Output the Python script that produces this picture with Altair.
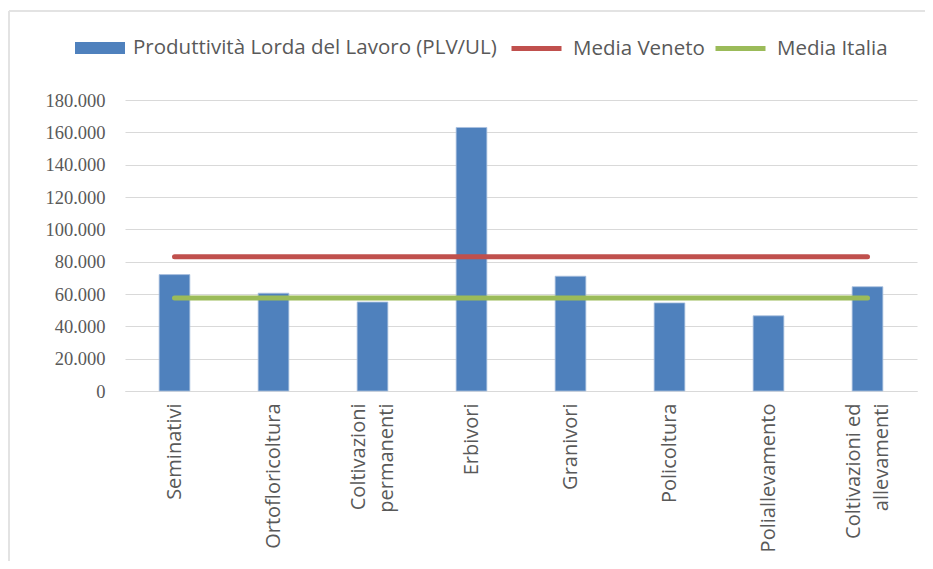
import altair as alt
import pandas as pd

categories = [
    "Seminativi",
    "Ortofloricoltura",
    "Coltivazioni\npermanenti",
    "Erbivori",
    "Granivori",
    "Policoltura",
    "Poliallevamento",
    "Coltivazioni ed\nallevamenti",
]
plv_ul = [72000, 60500, 55000, 163000, 71000, 54500, 46500, 64500]
media_veneto = [83000] * 8
media_italia = [57500] * 8
y_ticks = [0, 20000, 40000, 60000, 80000, 100000, 120000, 140000, 160000, 180000]

BAR_NAME = "Produttività Lorda del Lavoro (PLV/UL)"
LINE_NAMES = ["Media Veneto", "Media Italia"]

bars_df = pd.DataFrame({"cat": categories, "value": plv_ul, "series": BAR_NAME})
lines_df = pd.concat([
    pd.DataFrame({"cat": categories, "value": media_veneto, "series": "Media Veneto"}),
    pd.DataFrame({"cat": categories, "value": media_italia, "series": "Media Italia"}),
])

SANS = "Open Sans, sans-serif"
SERIF = "Liberation Serif, DejaVu Serif, serif"
TXT = "#595959"

x_enc = alt.X(
    "cat:N",
    sort=categories,
    scale=alt.Scale(paddingInner=0.69, paddingOuter=0.345),
    axis=alt.Axis(
        title=None,
        labelAngle=270,
        labelAlign="right",
        labelBaseline="middle",
        labelExpr="split(datum.label, '\\n')",
        labelOffset=alt.condition("indexof(datum.value, '\\n') >= 0", alt.value(-14), alt.value(0)),
        labelFont=SANS,
        labelFontSize=20,
        labelColor=TXT,
        labelPadding=12,
        ticks=False,
        domainColor="#D9D9D9",
        domainWidth=1,
        labelLimit=300,
        labelLineHeight=28,
    ),
)

y_enc = alt.Y(
    "value:Q",
    scale=alt.Scale(domain=[0, 180000], nice=False),
    axis=alt.Axis(
        title=None,
        values=y_ticks,
        tickCount=10,
        labelExpr="replace(format(datum.value, ','), ',', '.')",
        labelFont=SERIF,
        labelFontSize=18.5,
        labelColor=TXT,
        labelPadding=20,
        labelOverlap=False,
        ticks=False,
        domain=False,
        gridColor="#D9D9D9",
        gridWidth=1,
    ),
)

bars = alt.Chart(bars_df).mark_bar(stroke="#A9C0DE", strokeWidth=0.8).encode(
    x=x_enc,
    y=y_enc,
    fill=alt.Fill(
        "series:N",
        scale=alt.Scale(domain=[BAR_NAME], range=["#4F81BD"]),
        legend=alt.Legend(
            title=None,
            orient="none",
            legendX=-50,
            legendY=-77,
            direction="horizontal",
            symbolType="M-1,-0.24H1V0.24H-1Z",
            symbolSize=2500,
            symbolStrokeWidth=0,
            labelFont=SANS,
            labelFontSize=20.5,
            labelColor=TXT,
            labelOffset=8,
            labelLimit=500,
        ),
    ),
)

lines = alt.Chart(lines_df).mark_line(strokeWidth=5, strokeCap="round").encode(
    x=x_enc,
    y=y_enc,
    detail="series:N",
    stroke=alt.Stroke(
        "series:N",
        scale=alt.Scale(domain=LINE_NAMES, range=["#C0504D", "#9BBB59"]),
        legend=alt.Legend(
            title=None,
            orient="none",
            legendX=384,
            legendY=-79,
            direction="horizontal",
            symbolType="stroke",
            symbolSize=2500,
            symbolStrokeWidth=5,
            labelFont=SANS,
            labelFontSize=20.5,
            labelColor=TXT,
            labelOffset=9,
            columnPadding=0,
            labelLimit=300,
        ),
    ),
)

frame_left = alt.Chart(bars_df).mark_rule(color="#E3E3E3", strokeWidth=2).encode(
    x=alt.value(-116), y=alt.value(-89), y2=alt.value(500)
)
frame_top = alt.Chart(bars_df).mark_rule(color="#E3E3E3", strokeWidth=2).encode(
    x=alt.value(-116), x2=alt.value(820), y=alt.value(-89)
)

chart = (
    alt.layer(frame_left, frame_top, bars, lines)
    .properties(
        width=792,
        height=291,
        autosize=alt.AutoSizeParams(type="none"),
        padding={"left": 117, "top": 92, "right": 8, "bottom": 170},
        background="white",
    )
    .configure_view(stroke=None)
)

chart.save("out.html", embed_options={"renderer": "svg", "actions": False})
